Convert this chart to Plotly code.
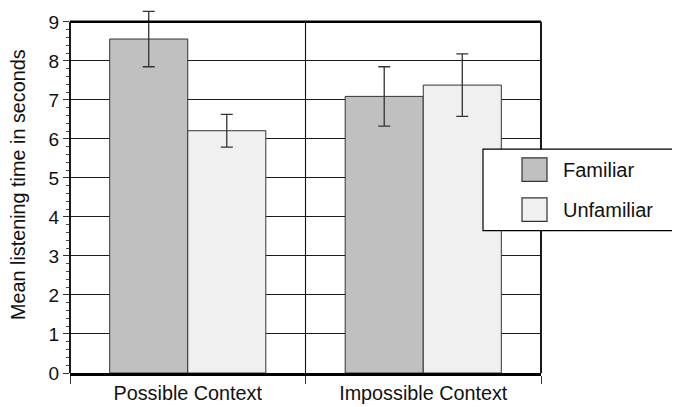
import plotly.graph_objects as go

categories = ["Possible Context", "Impossible Context"]
familiar = [8.56, 7.09]
familiar_err = [0.71, 0.76]
unfamiliar = [6.21, 7.38]
unfamiliar_err = [0.42, 0.80]
series_names = ["Familiar", "Unfamiliar"]
colors = ["#c0c0c0", "#f0f0f0"]
y_ticks = list(range(0, 10))
y_minor = [round(i * 0.2, 1) for i in range(1, 45) if i % 5 != 0]

OFF = 8  # page body margin offset
YMAX = 9.33
UNIT = 351 / 9.0  # px per y unit (0 at page 373, 9 at page 22)
W, H = 672, 399
L, R, B = 62, 139, 34
T = (373 - YMAX * UNIT) - OFF
pw, ph = W - L - R, H - T - B

def px2x(px):
    return (px - OFF - L) / pw

def px2y(py):
    return (H - B - (py - OFF)) / ph

font = "Liberation Sans, Arial, Helvetica, sans-serif"
ink = "#111111"

fig = go.Figure()
for name, vals, errs, col in zip(series_names, [familiar, unfamiliar],
                                 [familiar_err, unfamiliar_err], colors):
    fig.add_trace(go.Bar(
        x=categories, y=vals, name=name,
        marker=dict(color=col, line=dict(color="#333333", width=1)),
        error_y=dict(type="data", array=errs, visible=True,
                     color="#333333", thickness=1.3, width=6),
        showlegend=False,
    ))

fig.update_layout(
    width=W, height=H,
    margin=dict(l=L, r=R, t=T, b=B, autoexpand=False),
    paper_bgcolor="white", plot_bgcolor="white",
    barmode="group", bargap=0.337, bargroupgap=0,
    font=dict(family=font, size=19, color=ink),
)
fig.update_xaxes(
    automargin=False,
    showline=True, linecolor="black", linewidth=2.5, mirror=False,
    tickson="boundaries", ticks="outside", ticklen=8, tickcolor="#333333",
    tickwidth=1.3, showgrid=False,
    tickfont=dict(size=19.8, family=font, color=ink),
)
fig.update_yaxes(
    automargin=False,
    range=[0, YMAX], tickmode="array", tickvals=y_ticks,
    showline=False, ticks="outside", ticklen=6, tickcolor="#333333", tickwidth=1.2,
    showgrid=True, gridcolor="#1a1a1a", gridwidth=1.1, zeroline=False,
    minor=dict(tickmode="array", tickvals=y_minor, ticks="outside", ticklen=3,
               tickcolor="#444444", showgrid=False),
    tickfont=dict(size=19, family=font, color=ink),
)

# y-axis title
fig.add_annotation(xref="paper", yref="paper", x=px2x(18), y=px2y(185),
                   text="Mean listening time in seconds", textangle=-90,
                   showarrow=False, xanchor="center", yanchor="middle",
                   font=dict(size=19.8, family=font, color=ink))

shapes = [
    # category divider
    dict(type="line", xref="x", yref="y", x0=0.5, x1=0.5, y0=0, y1=y_ticks[-1],
         line=dict(color="#111111", width=1.1), layer="below"),
    # frame: left, right, top
    dict(type="line", xref="paper", yref="y", x0=0, x1=0, y0=0, y1=y_ticks[-1],
         line=dict(color="black", width=1.8), layer="above"),
    dict(type="line", xref="paper", yref="y", x0=1, x1=1, y0=0, y1=y_ticks[-1],
         line=dict(color="black", width=1.8), layer="above"),
    dict(type="line", xref="paper", yref="y", x0=0, x1=1, y0=y_ticks[-1], y1=y_ticks[-1],
         line=dict(color="black", width=2.5), layer="above"),
    # legend box
    dict(type="rect", xref="paper", yref="paper",
         x0=px2x(483), x1=px2x(700), y0=px2y(230.7), y1=px2y(149.3),
         fillcolor="white", line=dict(color="black", width=1.2), layer="above"),
]
sw_tops = [158, 198]
for name, col, top in zip(series_names, colors, sw_tops):
    shapes.append(dict(type="rect", xref="paper", yref="paper",
                       x0=px2x(522), x1=px2x(547), y0=px2y(top + 23.5), y1=px2y(top),
                       fillcolor=col, line=dict(color="#333333", width=1.2),
                       layer="above"))
    fig.add_annotation(xref="paper", yref="paper", x=px2x(561), y=px2y(top + 12),
                       text=name, showarrow=False, xanchor="left", yanchor="middle",
                       font=dict(size=20, family=font, color=ink))
fig.update_layout(shapes=shapes)

fig.write_html("out.html")
